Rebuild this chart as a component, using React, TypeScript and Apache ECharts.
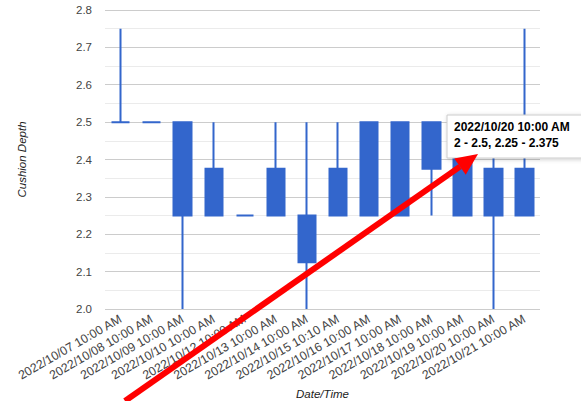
import React, { useEffect, useRef } from "react";
import * as echarts from "echarts";

const categories = [
  "2022/10/07 10:00 AM",
  "2022/10/08 10:00 AM",
  "2022/10/09 10:00 AM",
  "2022/10/10 10:00 AM",
  "2022/10/12 10:00 AM",
  "2022/10/13 10:00 AM",
  "2022/10/14 10:00 AM",
  "2022/10/15 10:10 AM",
  "2022/10/16 10:00 AM",
  "2022/10/17 10:00 AM",
  "2022/10/18 10:00 AM",
  "2022/10/19 10:00 AM",
  "2022/10/20 10:00 AM",
  "2022/10/21 10:00 AM",
];
const lows = [2.5, 2.5, 2.0, 2.25, 2.25, 2.25, 2.0, 2.25, 2.25, 2.25, 2.25, 2.25, 2.0, 2.25];
const opens = [2.5, 2.5, 2.5, 2.25, 2.25, 2.25, 2.25, 2.25, 2.25, 2.25, 2.375, 2.25, 2.25, 2.25];
const closes = [2.5, 2.5, 2.25, 2.375, 2.25, 2.375, 2.125, 2.375, 2.5, 2.5, 2.5, 2.5, 2.375, 2.375];
const highs = [2.75, 2.5, 2.5, 2.5, 2.25, 2.5, 2.5, 2.5, 2.5, 2.5, 2.5, 2.5, 2.5, 2.75];

const tooltipTitle = "2022/10/20 10:00 AM";
const tooltipValues = "2 - 2.5, 2.25 - 2.375";

export default function App() {
  const ref = useRef<HTMLDivElement>(null);
  useEffect(() => {
    if (!ref.current) return;
    const chart = echarts.init(ref.current, null, { renderer: "svg" });
    const blue = "#3366cc";
    const font = "Arial, 'Liberation Sans', sans-serif";
    const data = categories.map((_, i) => [opens[i], closes[i], lows[i], highs[i]]);
    // arrow geometry
    const sx = 125, sy = 401, tx = 478, ty = 154;
    const dx = tx - sx, dy = ty - sy;
    const len = Math.sqrt(dx * dx + dy * dy);
    const ux = dx / len, uy = dy / len;
    const headL = 22, headW = 10;
    const bx = tx - ux * headL, by = ty - uy * headL;
    const nx = -uy, ny = ux;
    chart.setOption({
      animation: false,
      backgroundColor: "#ffffff",
      grid: { left: 105, right: 41, top: 10, bottom: 92, containLabel: false, outerBoundsMode: "none" },
      xAxis: {
        type: "category",
        data: categories,
        boundaryGap: true,
        axisLine: { show: false },
        axisTick: { show: false },
        splitLine: { show: false },
        axisLabel: {
          rotate: 30,
          interval: 0,
          fontSize: 12.3,
          color: "#444",
          fontFamily: font,
          margin: 9,
        },
        name: "Date/Time",
        nameLocation: "middle",
        nameGap: 78,
        nameTextStyle: { fontSize: 11.5, fontStyle: "italic", color: "#222", fontFamily: font },
      },
      yAxis: {
        type: "value",
        min: 2.0,
        max: 2.8,
        interval: 0.1,
        axisLine: { show: false },
        axisTick: { show: false },
        axisLabel: {
          fontSize: 11.5,
          color: "#444",
          fontFamily: font,
          margin: 13,
          formatter: (v: number) => v.toFixed(1),
        },
        splitLine: { lineStyle: { color: "#cccccc", width: 1 } },
        minorTick: { show: false, splitNumber: 2 },
        minorSplitLine: { show: true, lineStyle: { color: "#ebebeb", width: 1 } },
        name: "Cushion Depth",
        nameLocation: "middle",
        nameGap: 77,
        nameTextStyle: { fontSize: 11.5, fontStyle: "italic", color: "#222", fontFamily: font },
      },
      series: [
        {
          type: "candlestick",
          data,
          barWidth: 18,
          itemStyle: {
            color: blue,
            color0: blue,
            borderColor: blue,
            borderColor0: blue,
            borderColorDoji: blue,
            borderWidth: 2,
          },
        },
      ],
      graphic: [
        {
          type: "rect",
          z: 50,
          shape: { x: 447, y: 115, width: 150, height: 43 },
          style: {
            fill: "#ffffff",
            stroke: "#cccccc",
            lineWidth: 1,
            shadowBlur: 4,
            shadowColor: "rgba(0,0,0,0.2)",
            shadowOffsetX: 1,
            shadowOffsetY: 1,
          },
        },
        {
          type: "text",
          z: 51,
          x: 454,
          y: 121,
          style: { text: tooltipTitle, fill: "#000", font: `bold 12px ${font}` },
        },
        {
          type: "text",
          z: 51,
          x: 454,
          y: 137,
          style: { text: tooltipValues, fill: "#000", font: `bold 12px ${font}` },
        },
        {
          type: "line",
          z: 100,
          shape: { x1: sx, y1: sy, x2: bx, y2: by },
          style: { stroke: "#ff0000", lineWidth: 6 },
        },
        {
          type: "polygon",
          z: 100,
          shape: {
            points: [
              [tx, ty],
              [bx + nx * headW, by + ny * headW],
              [bx - nx * headW, by - ny * headW],
            ],
          },
          style: { fill: "#ff0000" },
        },
      ],
    });
    return () => chart.dispose();
  }, []);
  return <div ref={ref} style={{ width: 581, height: 401, position: "absolute", left: 0, top: 0 }} />;
}
